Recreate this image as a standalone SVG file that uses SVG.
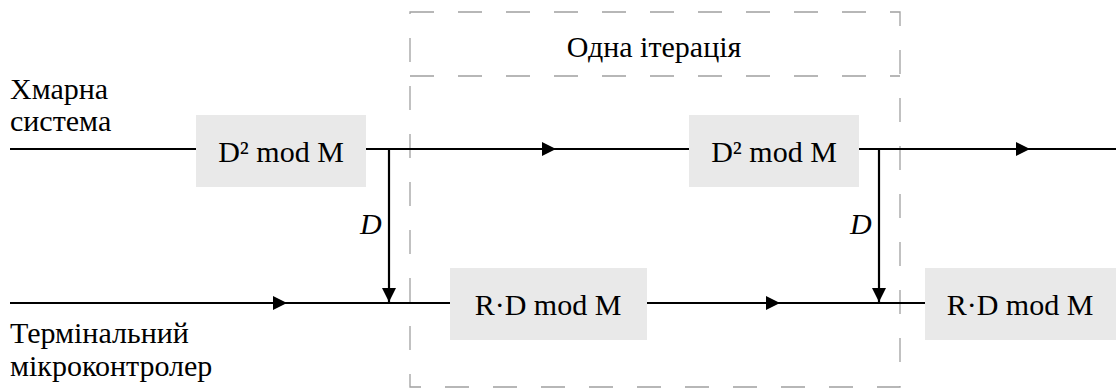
<svg xmlns="http://www.w3.org/2000/svg" width="1116" height="389" viewBox="0 0 1116 389">
  <style>
    text { font-family: 'Liberation Serif', 'Times New Roman', serif; font-size: 30px; fill: #000; }
    .ctr { text-anchor: middle; }
    .ital { font-style: italic; }
    .box { fill: #e9e9e9; }
    .wire { stroke: #000; stroke-width: 2.2; fill: none; }
    .frame { stroke: #a0a0a0; stroke-width: 1.3; fill: none; stroke-dasharray: 24 24; }
  </style>
  <defs>
    <marker id="arrow" viewBox="0 0 14 14" refX="14" refY="7" markerWidth="14" markerHeight="14" markerUnits="userSpaceOnUse" orient="auto">
      <path d="M0,0 L14,7 L0,14 Z" fill="#000"/>
    </marker>
  </defs>
  <rect width="1116" height="389" fill="#fff"/>

  <!-- one iteration frame -->
  <g id="iteration">
    <rect class="frame" x="410" y="12" width="490" height="375"/>
    <line class="frame" x1="410" y1="76" x2="900" y2="76"/>
    <text class="ctr" x="654" y="57">Одна ітерація</text>
  </g>

  <!-- lane labels -->
  <g id="cloud-label">
    <text x="10" y="99">Хмарна</text>
    <text x="10" y="131">система</text>
  </g>
  <g id="mcu-label">
    <text x="10" y="343">Термінальний</text>
    <text x="10" y="376">мікроконтролер</text>
  </g>

  <!-- connectors -->
  <g id="connectors">
    <line class="wire" x1="10" y1="149" x2="196" y2="149"/>
    <line class="wire" x1="366" y1="149" x2="556" y2="149" marker-end="url(#arrow)"/>
    <line class="wire" x1="550" y1="149" x2="689" y2="149"/>
    <line class="wire" x1="859" y1="149" x2="1030" y2="149" marker-end="url(#arrow)"/>
    <line class="wire" x1="1024" y1="149" x2="1116" y2="149"/>

    <line class="wire" x1="10" y1="303" x2="287" y2="303" marker-end="url(#arrow)"/>
    <line class="wire" x1="281" y1="303" x2="450" y2="303"/>
    <line class="wire" x1="647" y1="303" x2="780" y2="303" marker-end="url(#arrow)"/>
    <line class="wire" x1="774" y1="303" x2="925" y2="303"/>

    <line class="wire" x1="389" y1="149" x2="389" y2="302" marker-end="url(#arrow)"/>
    <line class="wire" x1="879" y1="149" x2="879" y2="302" marker-end="url(#arrow)"/>
    <text class="ital" x="360" y="234">D</text>
    <text class="ital" x="850" y="234">D</text>
  </g>

  <!-- processing blocks -->
  <g id="square-1">
    <rect class="box" x="196" y="115" width="170" height="72"/>
    <text class="ctr" x="281" y="162">D² mod M</text>
  </g>
  <g id="square-2">
    <rect class="box" x="689" y="115" width="170" height="72"/>
    <text class="ctr" x="774" y="162">D² mod M</text>
  </g>
  <g id="multiply-1">
    <rect class="box" x="450" y="268" width="197" height="72"/>
    <text class="ctr" x="548" y="315">R·D mod M</text>
  </g>
  <g id="multiply-2">
    <rect class="box" x="925" y="268" width="197" height="72"/>
    <text class="ctr" x="1020" y="315">R·D mod M</text>
  </g>
</svg>
